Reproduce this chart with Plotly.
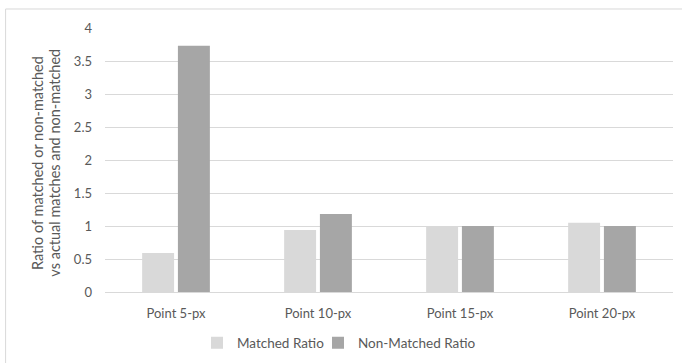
import plotly.graph_objects as go

# Ratio of matched / non-matched detections per point tolerance
categories = ["Point 5-px", "Point 10-px", "Point 15-px", "Point 20-px"]
matched_ratio = [0.59, 0.94, 1.0, 1.05]
non_matched_ratio = [3.73, 1.18, 1.0, 1.0]
y_ticks = [0, 0.5, 1, 1.5, 2, 2.5, 3, 3.5, 4]
y_tick_text = ["0", "0.5", "1", "1.5", "2", "2.5", "3", "3.5", "4"]

FONT = "Lato"
TEXT_GRAY = "#595959"

fig = go.Figure()
fig.add_trace(go.Bar(
    name="Matched Ratio", x=categories, y=matched_ratio,
    marker=dict(color="#d9d9d9", line=dict(width=0)),
    legend="legend",
))
fig.add_trace(go.Bar(
    name="Non-Matched Ratio", x=categories, y=non_matched_ratio,
    marker=dict(color="#a6a6a6", line=dict(width=0)),
    legend="legend2",
))


def legend_box(left_px):
    return dict(
        orientation="h", xref="container", yref="container",
        x=left_px / 682, xanchor="left", y=1 - 343 / 363, yanchor="middle",
        font=dict(family=FONT, size=13.5, color=TEXT_GRAY),
        itemwidth=30, bgcolor="rgba(0,0,0,0)",
    )


fig.update_layout(
    width=682, height=363,
    margin=dict(l=105, r=9, t=28, b=71, autoexpand=False),
    paper_bgcolor="white", plot_bgcolor="white",
    barmode="group", bargap=0.496, bargroupgap=0.107,
    font=dict(family=FONT, size=13, color=TEXT_GRAY),
    showlegend=True,
    legend=legend_box(197),
    legend2=legend_box(318),
    xaxis=dict(
        automargin=False,
        showgrid=False, showline=True, linecolor="#d9d9d9", linewidth=1,
        ticks="", ticklabelstandoff=9,
        tickfont=dict(size=13, color=TEXT_GRAY),
    ),
    yaxis=dict(
        automargin=False,
        range=[0, 4], tickvals=y_ticks, ticktext=y_tick_text,
        showgrid=True, gridcolor="#d9d9d9", gridwidth=1,
        zeroline=False, showline=False, ticks="",
        ticklabelstandoff=12,
        tickfont=dict(size=13, color=TEXT_GRAY),
    ),
    shapes=[dict(
        type="rect", xref="paper", yref="paper",
        x0=-0.175, x1=1.2, y0=-0.5, y1=1.072,
        line=dict(color="#d9d9d9", width=1), fillcolor="rgba(0,0,0,0)",
        layer="below",
    )],
    annotations=[
        dict(text="Ratio of matched or non-matched", xref="paper", yref="paper",
             x=-0.119, y=0.49, xanchor="center", yanchor="middle",
             textangle=-90, showarrow=False,
             font=dict(family=FONT, size=14.5, color=TEXT_GRAY)),
        dict(text="vs actual matches and non-matched", xref="paper", yref="paper",
             x=-0.088, y=0.49, xanchor="center", yanchor="middle",
             textangle=-90, showarrow=False,
             font=dict(family=FONT, size=14.5, color=TEXT_GRAY)),
    ],
)

fig.write_html("out.html")
